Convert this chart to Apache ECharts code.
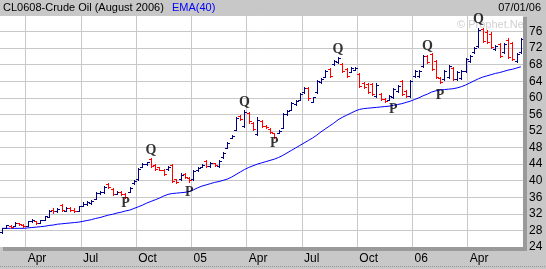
<!DOCTYPE html>
<html><head><meta charset="utf-8">
<script src="https://cdn.jsdelivr.net/npm/echarts@6/dist/echarts.min.js"></script>
<style>html,body{margin:0;padding:0;background:#c8c8c8}#c{width:546px;height:269px}</style>
</head><body><div id="c"></div>
<script>
const categories = ['2004-02-16','2004-02-23','2004-03-01','2004-03-08','2004-03-15','2004-03-22','2004-03-29','2004-04-05','2004-04-12','2004-04-19','2004-04-26','2004-05-03','2004-05-10','2004-05-17','2004-05-24','2004-05-31','2004-06-07','2004-06-14','2004-06-21','2004-06-28','2004-07-05','2004-07-12','2004-07-19','2004-07-26','2004-08-02','2004-08-09','2004-08-16','2004-08-23','2004-08-30','2004-09-06','2004-09-13','2004-09-20','2004-09-27','2004-10-04','2004-10-11','2004-10-18','2004-10-25','2004-11-01','2004-11-08','2004-11-15','2004-11-22','2004-11-29','2004-12-06','2004-12-13','2004-12-20','2004-12-27','2005-01-03','2005-01-10','2005-01-17','2005-01-24','2005-01-31','2005-02-07','2005-02-14','2005-02-21','2005-02-28','2005-03-07','2005-03-14','2005-03-21','2005-03-28','2005-04-04','2005-04-11','2005-04-18','2005-04-25','2005-05-02','2005-05-09','2005-05-16','2005-05-23','2005-05-30','2005-06-06','2005-06-13','2005-06-20','2005-06-27','2005-07-04','2005-07-11','2005-07-18','2005-07-25','2005-08-01','2005-08-08','2005-08-15','2005-08-22','2005-08-29','2005-09-05','2005-09-12','2005-09-19','2005-09-26','2005-10-03','2005-10-10','2005-10-17','2005-10-24','2005-10-31','2005-11-07','2005-11-14','2005-11-21','2005-11-28','2005-12-05','2005-12-12','2005-12-19','2005-12-26','2006-01-02','2006-01-09','2006-01-16','2006-01-23','2006-01-30','2006-02-06','2006-02-13','2006-02-20','2006-02-27','2006-03-06','2006-03-13','2006-03-20','2006-03-27','2006-04-03','2006-04-10','2006-04-17','2006-04-24','2006-05-01','2006-05-08','2006-05-15','2006-05-22','2006-05-29','2006-06-05','2006-06-12','2006-06-19'];
const opens = [27.6,28.7,29.0,29.1,29.7,29.4,29.1,30.2,30.2,29.9,30.6,31.3,33.0,32.7,34.2,32.8,33.4,33.0,32.8,33.9,34.3,34.7,35.7,37.0,37.2,39.2,38.1,36.9,37.2,36.9,37.3,39.4,40.3,43.3,44.0,45.3,43.8,43.2,42.6,42.8,43.8,40.3,40.4,41.7,40.7,40.3,42.5,43.3,44.8,43.5,44.2,43.6,45.7,47.9,50.3,52.3,55.7,53.2,56.4,54.0,51.3,54.5,53.3,52.6,51.4,51.5,52.8,56.0,57.1,58.5,59.6,61.3,62.3,59.0,61.3,63.8,65.1,67.0,68.1,68.6,68.2,67.0,66.3,66.8,65.8,63.6,63.4,63.3,60.4,61.0,59.8,59.6,60.2,61.6,64.0,61.7,60.4,65.2,65.2,67.6,70.0,70.5,68.8,64.9,64.5,65.0,67.2,64.6,64.8,66.4,68.9,71.0,72.5,76.7,76.0,75.5,71.7,73.0,71.0,74.0,73.2,68.9,71.0];
const highs = [28.6,29.3,29.2,30.0,29.8,29.5,30.3,30.8,30.3,30.6,31.6,33.0,33.3,33.4,34.5,33.6,33.6,33.3,34.0,34.8,35.0,35.4,37.3,37.4,38.7,39.5,38.3,37.6,37.4,37.0,38.5,40.2,43.0,44.3,44.6,45.6,44.0,43.3,42.8,43.5,44.0,40.5,41.8,41.9,40.8,42.6,43.2,44.0,45.0,44.6,44.3,45.0,46.9,49.3,51.0,55.4,55.9,57.0,56.6,54.2,55.4,54.7,53.4,52.7,51.5,52.2,56.3,57.0,59.0,59.5,61.2,62.6,62.6,60.3,64.3,64.8,66.7,67.2,69.1,69.9,68.4,67.2,67.4,67.4,66.0,63.8,63.6,63.6,63.6,61.2,60.0,60.7,62.4,63.1,64.3,61.9,64.3,66.7,66.7,70.3,70.3,70.8,69.1,65.0,66.7,67.9,67.4,66.5,66.8,69.6,70.3,72.3,76.9,76.9,76.4,75.9,72.8,73.2,73.2,74.4,73.5,70.8,74.4];
const lows = [27.4,28.6,28.5,29.0,29.2,28.9,29.0,30.0,29.6,29.8,30.5,31.2,32.3,32.5,32.7,32.6,32.7,32.5,32.7,33.8,34.2,34.5,35.6,36.8,37.0,38.2,36.6,36.8,36.5,35.9,37.2,39.3,40.2,43.2,43.8,43.4,42.6,42.5,41.4,42.7,39.7,39.4,40.2,40.7,39.8,40.2,42.4,43.2,43.3,43.2,43.5,43.3,45.6,47.8,50.2,52.2,54.6,53.0,54.0,52.2,51.0,53.0,52.7,51.5,50.3,51.4,52.7,55.8,57.0,58.3,59.5,61.2,59.6,58.9,61.2,63.6,65.0,65.0,68.0,68.4,66.2,65.0,66.2,66.7,62.6,62.4,61.2,60.7,60.2,59.5,59.0,59.5,60.0,61.4,60.7,60.2,60.2,65.0,65.0,67.4,68.4,66.7,64.8,63.6,64.3,64.8,64.3,64.4,64.6,66.2,68.7,70.8,72.3,73.5,73.2,72.0,71.5,69.9,70.8,69.6,69.1,68.7,70.8];
const closes = [28.5,29.2,28.8,29.8,29.5,29.0,30.2,30.5,29.8,30.4,31.4,32.8,32.6,33.2,32.9,33.3,33.0,32.8,33.8,34.5,34.8,35.2,37.1,37.3,38.5,38.4,36.8,37.3,36.7,36.1,38.3,40.0,42.8,44.1,44.4,43.6,42.9,42.7,41.6,43.3,40.0,39.6,41.5,40.9,40.1,42.4,43.0,43.8,43.6,44.3,43.8,44.8,46.7,49.1,50.8,55.2,54.9,56.6,54.3,52.5,54.6,53.3,52.9,51.8,50.5,52.0,56.0,56.8,58.8,59.3,61.0,62.4,60.0,60.1,64.0,64.6,66.5,65.3,68.9,69.7,66.5,65.3,67.2,67.3,62.9,62.6,61.5,61.0,63.2,59.8,59.2,60.5,62.2,62.9,61.0,60.5,64.0,66.5,66.6,70.0,68.7,67.0,65.0,63.8,66.4,67.6,64.6,66.2,66.5,69.3,70.1,72.1,76.5,73.8,73.5,72.3,72.6,70.2,72.9,69.9,69.4,70.5,74.1];
const ema40 = [28.5,28.5,28.5,28.5,28.5,28.5,28.6,28.7,28.8,28.9,29.0,29.2,29.3,29.5,29.6,29.7,29.8,29.9,30.0,30.2,30.4,30.6,30.9,31.1,31.4,31.7,31.9,32.2,32.4,32.7,32.9,33.3,33.7,34.1,34.6,35.0,35.4,35.8,36.3,36.7,36.9,37.0,37.1,37.2,37.4,37.8,38.3,38.7,39.0,39.3,39.6,39.8,40.1,40.4,40.9,41.5,42.1,42.7,43.2,43.6,44.0,44.3,44.6,44.9,45.2,45.6,46.1,46.7,47.3,47.9,48.5,49.1,49.7,50.3,51.0,51.8,52.5,53.2,53.9,54.7,55.3,55.8,56.3,56.8,57.2,57.4,57.5,57.6,57.7,57.8,57.9,58.0,58.2,58.4,58.6,58.9,59.2,59.6,60.0,60.5,60.9,61.4,61.7,61.9,62.0,62.1,62.2,62.4,62.7,63.1,63.6,64.1,64.6,65.0,65.3,65.6,65.9,66.1,66.4,66.7,66.9,67.2,67.5];
const tickIndex = [6,19,32,45,58,71,84,97,110];
const tickText = ['Apr','Jul','Oct','05','Apr','Jul','Oct','06','Apr'];
const markIndex = [29,35,44,57,64,79,92,100,103,112];
const markValue = [34.6,47.4,37.3,59.0,48.9,71.8,57.1,72.5,60.7,79.0];
const markText = ['P','Q','P','Q','P','Q','P','Q','P','Q'];

const chart = echarts.init(document.getElementById('c'), null, {renderer: 'canvas'});
const ohlc = categories.map((c, i) => [i, opens[i], highs[i], lows[i], closes[i]]);
const marks = markIndex.map((i, k) => [i, markValue[k], markText[k]]);
const FONT = 'Liberation Sans, Arial, sans-serif';

function renderBar(params, api) {
  const i = api.value(0);
  const o = api.coord([i, api.value(1)]);
  const h = api.coord([i, api.value(2)]);
  const l = api.coord([i, api.value(3)]);
  const c = api.coord([i, api.value(4)]);
  const prev = i > 0 ? closes[i - 1] : opens[i];
  const color = api.value(4) < prev ? '#ff0000' : '#000080';
  const n = Math.round(h[0]);
  const st = {stroke: color, lineWidth: 1};
  const oy = Math.round(o[1]) + 0.5, cy = Math.round(c[1]) + 0.5;
  return {type: 'group', children: [
    {type: 'line', shape: {x1: n + 0.5, y1: Math.round(h[1]), x2: n + 0.5, y2: Math.round(l[1]) + 1}, style: st},
    {type: 'line', shape: {x1: n - 2, y1: oy, x2: n, y2: oy}, style: st},
    {type: 'line', shape: {x1: n + 1, y1: cy, x2: n + 3, y2: cy}, style: st}
  ]};
}

const option = {
  animation: false,
  backgroundColor: '#c8c8c8',
  grid: {left: 0, top: 15, width: 523, height: 232, show: true, backgroundColor: '#ffffff', borderWidth: 0},
  xAxis: {
    type: 'category', data: categories, boundaryGap: true,
    axisLine: {show: false}, axisTick: {show: false},
    splitLine: {show: true, interval: (i) => tickIndex.includes(i), lineStyle: {color: '#c8c8c8', width: 1}},
    axisLabel: {interval: (i) => tickIndex.includes(i), formatter: (v, i) => tickText[tickIndex.indexOf(i)] || '',
      align: 'left', margin: 6, color: '#000', fontSize: 12, fontFamily: FONT}
  },
  yAxis: {
    type: 'value', position: 'right', min: 24, max: 80, interval: 4,
    axisLine: {show: false}, axisTick: {show: false},
    splitLine: {lineStyle: {color: '#c8c8c8', width: 1}},
    axisLabel: {margin: 6, formatter: (v) => v === 80 ? '' : String(v), color: '#000', fontSize: 12, fontFamily: FONT}
  },
  series: [
    {type: 'line', data: ema40, showSymbol: false, symbol: 'none', lineStyle: {color: '#0000ff', width: 1}, z: 3},
    {type: 'custom', data: ohlc, renderItem: renderBar, encode: {x: 0, y: [1, 2, 3, 4]}, z: 4},
    {type: 'scatter', data: marks, symbolSize: 0, z: 5,
      label: {show: true, position: 'inside', formatter: (p) => p.data[2], fontFamily: 'Liberation Serif, Times New Roman, serif', fontWeight: 'bold', fontSize: 14, color: '#000'}}
  ],
  graphic: [
    {type: 'rect', shape: {x: 523, y: 17, width: 4, height: 234}, style: {fill: '#9a9a9a'}, z: 10},
    {type: 'rect', shape: {x: 3, y: 247, width: 524, height: 4}, style: {fill: '#9a9a9a'}, z: 10},
    {type: 'line', shape: {x1: 0, y1: 266.5, x2: 546, y2: 266.5}, style: {stroke: '#999', lineWidth: 1, lineDash: [1, 1]}, z: 10},
    {type: 'text', x: 3, y: 8, z: 10, style: {text: 'CL0608-Crude Oil (August 2006)', fill: '#000', font: '11px ' + FONT, textVerticalAlign: 'middle'}},
    {type: 'text', x: 172, y: 8, z: 10, style: {text: 'EMA(40)', fill: '#0000ff', font: '11px ' + FONT, textVerticalAlign: 'middle'}},
    {type: 'text', x: 541, y: 8, z: 10, style: {text: '07/01/06', fill: '#000', font: '11px ' + FONT, textAlign: 'right', textVerticalAlign: 'middle'}},
    {type: 'text', x: 457, y: 25, z: 1, style: {text: '© Prophet.Net', fill: '#d0d0d0', font: '11px ' + FONT, textVerticalAlign: 'middle'}}
  ]
};
chart.setOption(option);
</script>
</body></html>
